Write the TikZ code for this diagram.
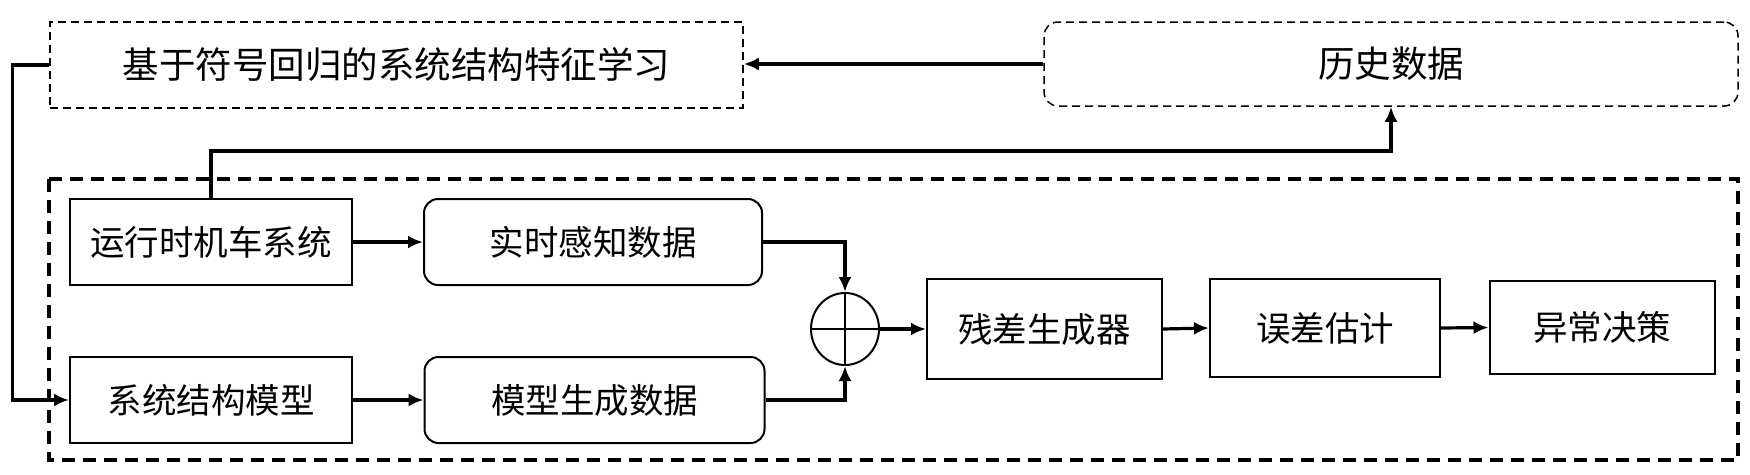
\documentclass[tikz,border=0pt]{standalone}
\usepackage{fontspec}
\newfontfamily\cjk{Noto Sans CJK SC}
\usetikzlibrary{arrows.meta,shapes.geometric}
\tikzset{
  lbl/.style={font=\cjk\fontsize{34.5}{40}\selectfont, inner sep=0pt},
  sbox/.style={lbl, draw, line width=2pt},
  rbox/.style={sbox, rounded corners=14pt},
  topbox/.style={lbl, font=\cjk\fontsize{36.5}{42}\selectfont, draw, line width=1.5pt, dash pattern=on 8pt off 5pt},
  arr/.style={line width=3.2pt, -{Latex[length=15pt,width=13pt]}},
}
\begin{document}
\begin{tikzpicture}[x=1pt,y=-1pt]
\useasboundingbox (0,0) rectangle (1750,474);
% top row
\node[topbox, minimum width=693pt, minimum height=86pt] (tl) at (396.5,65) {基于符号回归的系统结构特征学习};
\node[topbox, rounded corners=14pt, minimum width=694pt, minimum height=84pt] (hist) at (1391,64) {历史数据};
% big dashed frame
\draw[line width=3.5pt, dash pattern=on 13pt off 8pt] (49,179) rectangle (1738,460);
% left column
\node[sbox, minimum width=282pt, minimum height=86pt] (run) at (211,242) {运行时机车系统};
\node[sbox, minimum width=282pt, minimum height=86pt] (model) at (211,400) {系统结构模型};
\node[rbox, minimum width=338pt, minimum height=86pt] (rt) at (593,242) {实时感知数据};
\node[rbox, minimum width=340pt, minimum height=86pt] (gen) at (594.5,400) {模型生成数据};
% summing junction
\node[draw, ellipse, line width=2pt, minimum width=68pt, minimum height=72pt, inner sep=0pt] (sum) at (845,329) {};
\draw[line width=1.5pt] (sum.north) -- (sum.south) (sum.west) -- (sum.east);
% right chain
\node[sbox, minimum width=235pt, minimum height=100pt] (res) at (1044.5,329) {残差生成器};
\node[sbox, minimum width=230pt, minimum height=98pt] (err) at (1325,328) {误差估计};
\node[sbox, minimum width=225pt, minimum height=93pt] (dec) at (1602,327.5) {异常决策};
% connectors
\draw[arr] (hist.west) -- (hist.west -| tl.east);
\draw[arr] (tl.west) -- ++(-37,0) |- (model.west);
\draw[arr] (run.north) -- ++(0,-47) -| (hist.south);
\draw[arr] (run.east) -- (rt.west);
\draw[arr] (model.east) -- (gen.west);
\draw[arr] (rt.east) -| (sum.north);
\draw[arr] (gen.east) -| (sum.south);
\draw[arr] (sum.east) -- (res.west);
\draw[arr] (res.east) -- (err.west);
\draw[arr] (err.east) -- (dec.west);
\end{tikzpicture}
\end{document}
